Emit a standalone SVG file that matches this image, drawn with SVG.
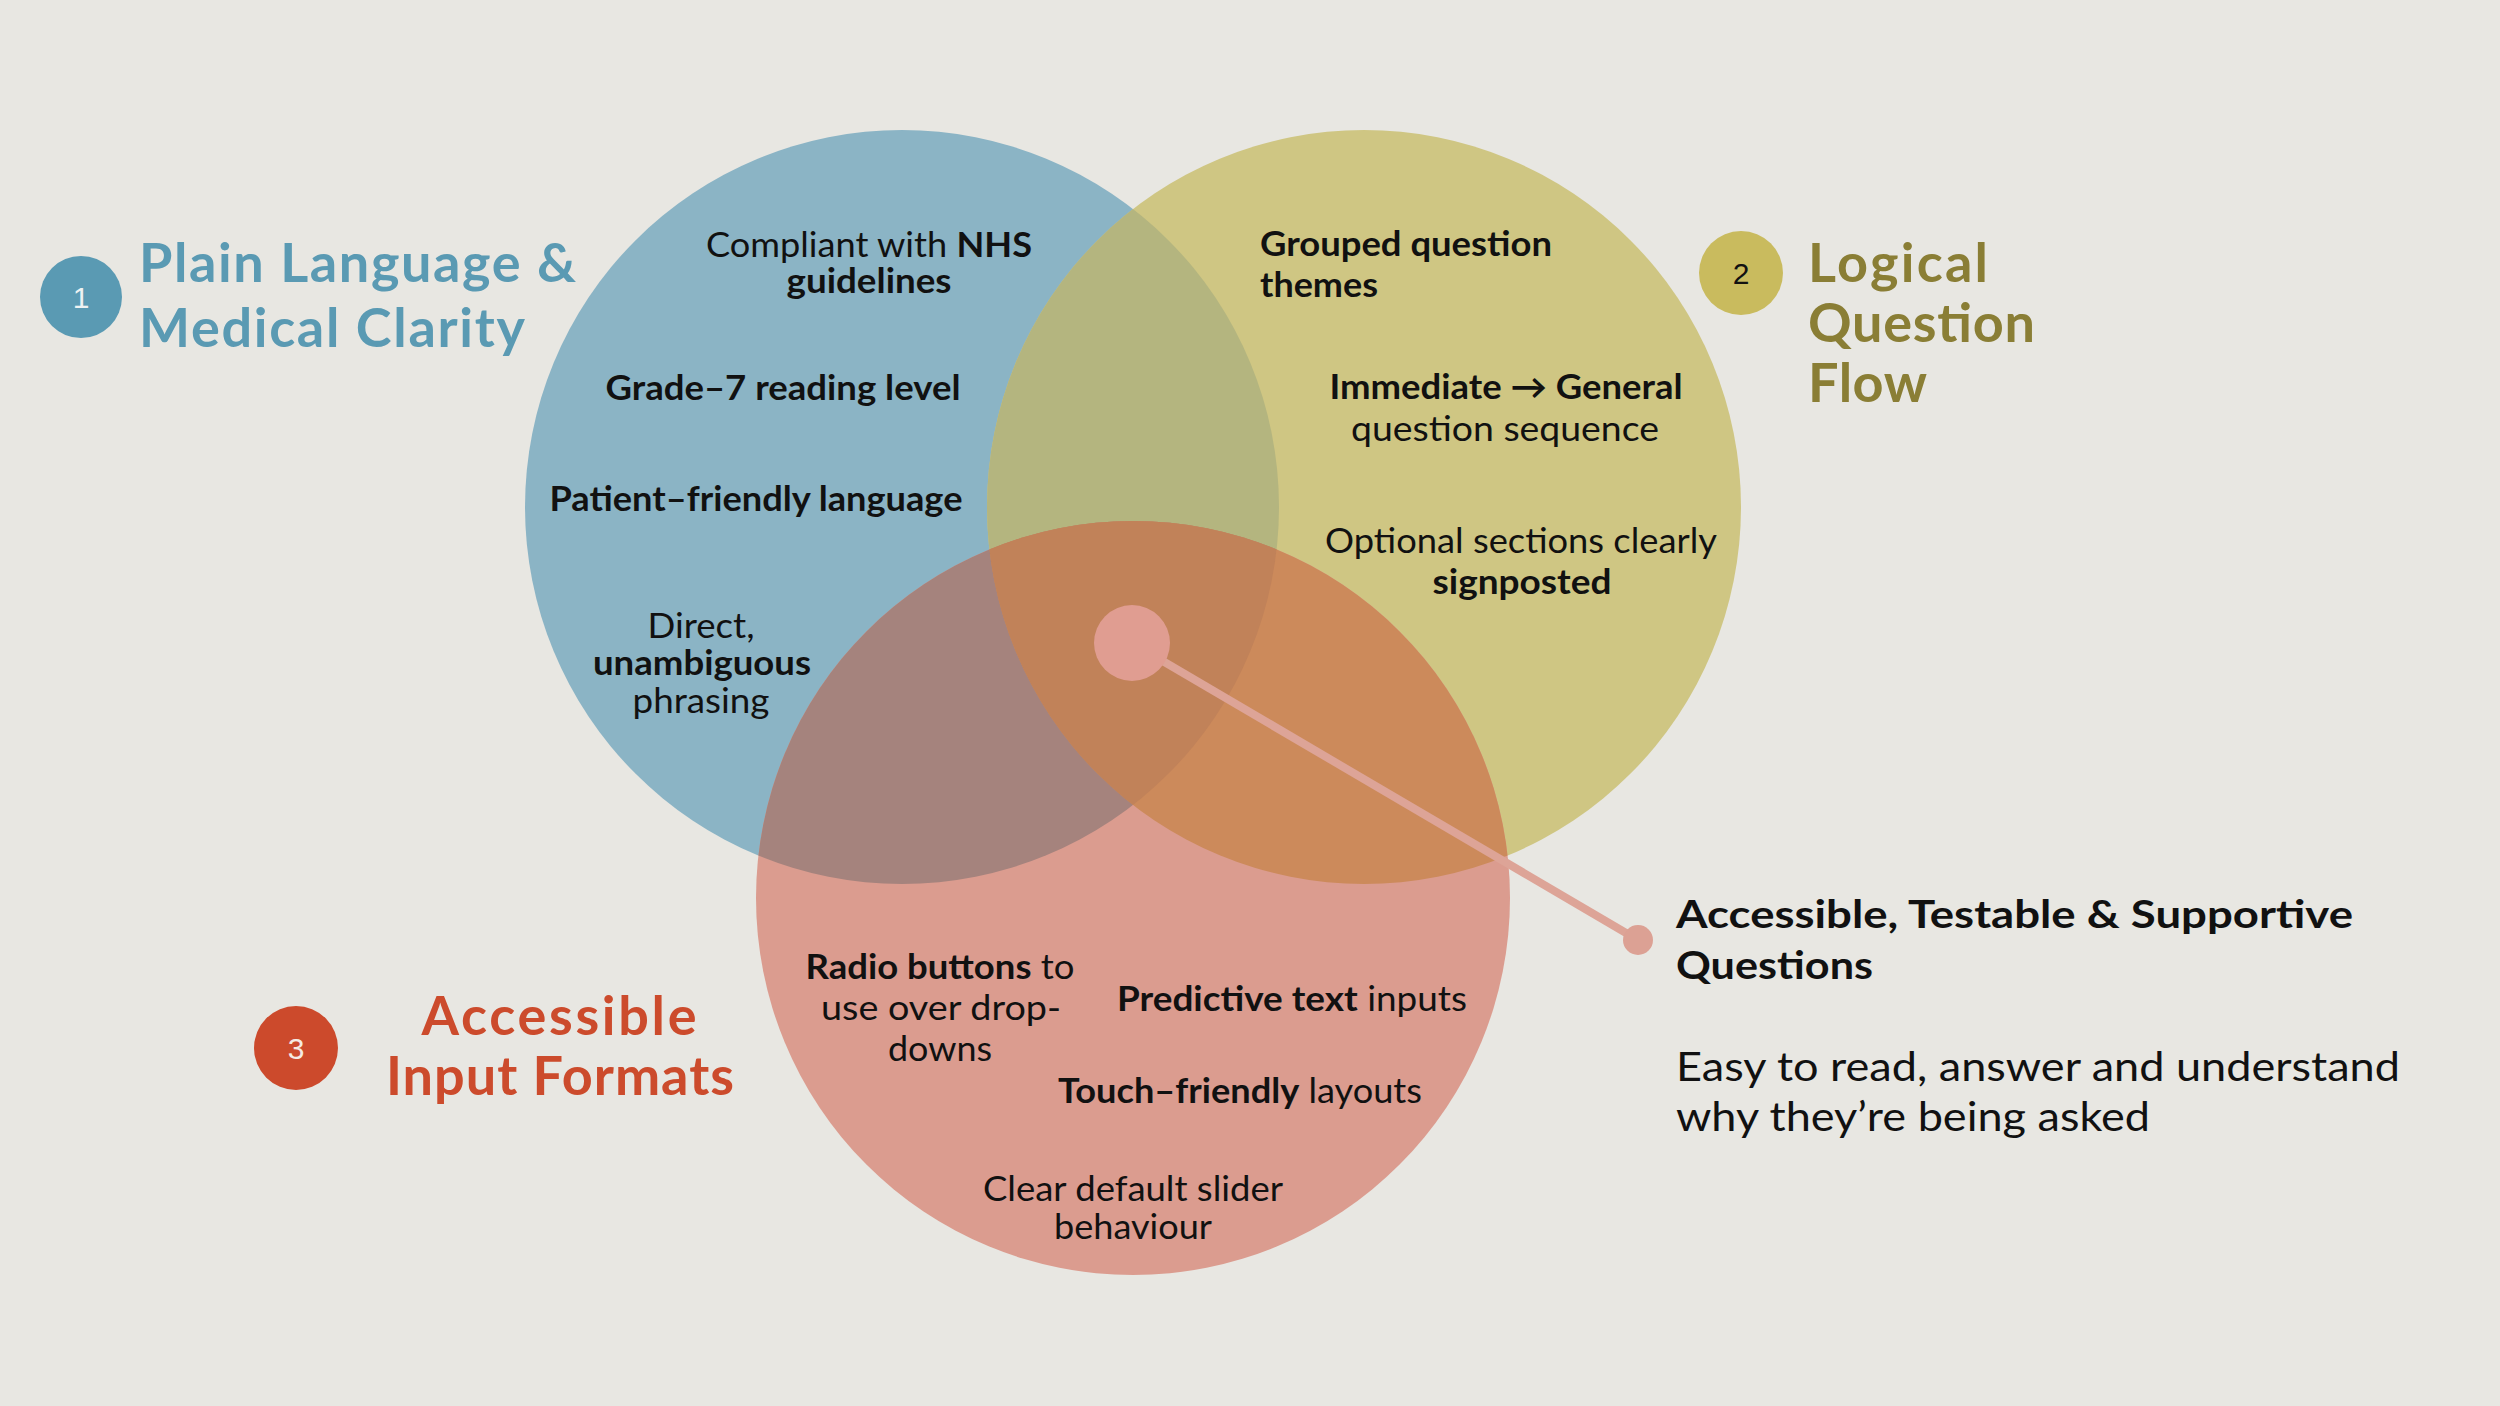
<svg xmlns="http://www.w3.org/2000/svg" width="2500" height="1406" viewBox="0 0 2500 1406">
<style>
text{font-family:Lato,"Open Sans","Liberation Sans",sans-serif;fill:#111;}
.t{font-size:34px;}
.b{font-weight:700;}
.m{text-anchor:middle;}
.title{font-size:54px;font-weight:700;}
.num{font-family:"Liberation Sans",Arial,sans-serif;font-size:30px;text-anchor:middle;}
.rh{font-size:39px;font-weight:700;}
.rb{font-size:41px;}
</style>
<defs>
<clipPath id="cB"><circle cx="902" cy="507" r="377"/></clipPath>
<clipPath id="cY"><circle cx="1364" cy="507" r="377"/></clipPath>
</defs>
<rect width="2500" height="1406" fill="#e8e7e2"/>

<g id="venn">
<circle id="circle-blue" cx="902" cy="507" r="377" fill="#8bb4c5"/>
<circle id="circle-yellow" cx="1364" cy="507" r="377" fill="#cfc683"/>
<circle id="circle-pink" cx="1133" cy="898" r="377" fill="#db9c8f"/>
<circle cx="1364" cy="507" r="377" fill="#b4b57f" clip-path="url(#cB)"/>
<circle cx="1133" cy="898" r="377" fill="#a5837d" clip-path="url(#cB)"/>
<circle cx="1133" cy="898" r="377" fill="#cc8a5b" clip-path="url(#cY)"/>
<g clip-path="url(#cB)"><circle cx="1133" cy="898" r="377" fill="#c18259" clip-path="url(#cY)"/></g>
</g>

<g id="title-1">
<circle cx="81" cy="297" r="41" fill="#5a9ab3"/>
<text class="num" x="81" y="308" style="fill:#eef2f2;font-weight:300">1</text>
<text class="title" x="139" y="282" textLength="437" style="fill:#5a9ab3">Plain Language &amp;</text>
<text class="title" x="139" y="347" textLength="386" style="fill:#5a9ab3">Medical Clarity</text>
</g>

<g id="title-2">
<circle cx="1741" cy="273" r="42" fill="#c9bb5e"/>
<text class="num" x="1741" y="284" style="fill:#111">2</text>
<text class="title" x="1808" y="282" textLength="180" style="fill:#8a7e35">Logical</text>
<text class="title" x="1808" y="342" textLength="227" style="fill:#8a7e35">Question</text>
<text class="title" x="1808" y="402" textLength="119" style="fill:#8a7e35">Flow</text>
</g>

<g id="title-3">
<circle cx="296" cy="1048" r="42" fill="#cc4a2c"/>
<text class="num" x="296" y="1059" style="fill:#f5ebe4">3</text>
<text class="title m" x="559" y="1035" textLength="275" style="fill:#cc4b2c">Accessible</text>
<text class="title m" x="560" y="1095" textLength="348" style="fill:#cc4b2c">Input Formats</text>
</g>

<g id="blue-items">
<text class="t m" x="869" y="257" textLength="326" lengthAdjust="spacingAndGlyphs">Compliant with <tspan class="b">NHS</tspan></text>
<text class="t m b" x="869" y="293" textLength="165" lengthAdjust="spacingAndGlyphs">guidelines</text>
<text class="t m b" x="783" y="400" textLength="355" lengthAdjust="spacingAndGlyphs">Grade–7 reading level</text>
<text class="t m b" x="756" y="511" textLength="413" lengthAdjust="spacingAndGlyphs">Patient–friendly language</text>
<text class="t m" x="701" y="638" textLength="107" lengthAdjust="spacingAndGlyphs">Direct,</text>
<text class="t m b" x="702" y="675" textLength="218" lengthAdjust="spacingAndGlyphs">unambiguous</text>
<text class="t m" x="701" y="713" textLength="137" lengthAdjust="spacingAndGlyphs">phrasing</text>
</g>

<g id="yellow-items">
<text class="t b" x="1260" y="256" textLength="292" lengthAdjust="spacingAndGlyphs">Grouped question</text>
<text class="t b" x="1260" y="297" textLength="118" lengthAdjust="spacingAndGlyphs">themes</text>
<text class="t m b" x="1506" y="399" textLength="353" lengthAdjust="spacingAndGlyphs">Immediate → General</text>
<text class="t m" x="1505" y="441" textLength="308" lengthAdjust="spacingAndGlyphs">question sequence</text>
<text class="t m" x="1521" y="553" textLength="392" lengthAdjust="spacingAndGlyphs">Optional sections clearly</text>
<text class="t m b" x="1522" y="594" textLength="179" lengthAdjust="spacingAndGlyphs">signposted</text>
</g>

<g id="pink-items">
<text class="t m" x="940" y="979" textLength="269" lengthAdjust="spacingAndGlyphs"><tspan class="b">Radio buttons</tspan> to</text>
<text class="t m" x="941" y="1020" textLength="240" lengthAdjust="spacingAndGlyphs">use over drop-</text>
<text class="t m" x="940" y="1061" textLength="104" lengthAdjust="spacingAndGlyphs">downs</text>
<text class="t m" x="1292" y="1011" textLength="350" lengthAdjust="spacingAndGlyphs"><tspan class="b">Predictive text</tspan> inputs</text>
<text class="t m" x="1240" y="1103" textLength="364" lengthAdjust="spacingAndGlyphs"><tspan class="b">Touch–friendly</tspan> layouts</text>
<text class="t m" x="1133" y="1201" textLength="300" lengthAdjust="spacingAndGlyphs">Clear default slider</text>
<text class="t m" x="1133" y="1239" textLength="158" lengthAdjust="spacingAndGlyphs">behaviour</text>
</g>

<g id="connectors">
<line x1="1132" y1="643" x2="1638" y2="940" stroke="#dda497" stroke-width="8"/>
<circle cx="1132" cy="643" r="38" fill="#e09d91"/>
<circle cx="1638" cy="940" r="15" fill="#dca194"/>
</g>

<g id="summary">
<text class="rh" x="1676" y="928" textLength="677" lengthAdjust="spacingAndGlyphs">Accessible, Testable &amp; Supportive</text>
<text class="rh" x="1676" y="979" textLength="197" lengthAdjust="spacingAndGlyphs">Questions</text>
<text class="rb" x="1676" y="1081" textLength="724" lengthAdjust="spacingAndGlyphs">Easy to read, answer and understand</text>
<text class="rb" x="1676" y="1131" textLength="474" lengthAdjust="spacingAndGlyphs">why they’re being asked</text>
</g>
</svg>
